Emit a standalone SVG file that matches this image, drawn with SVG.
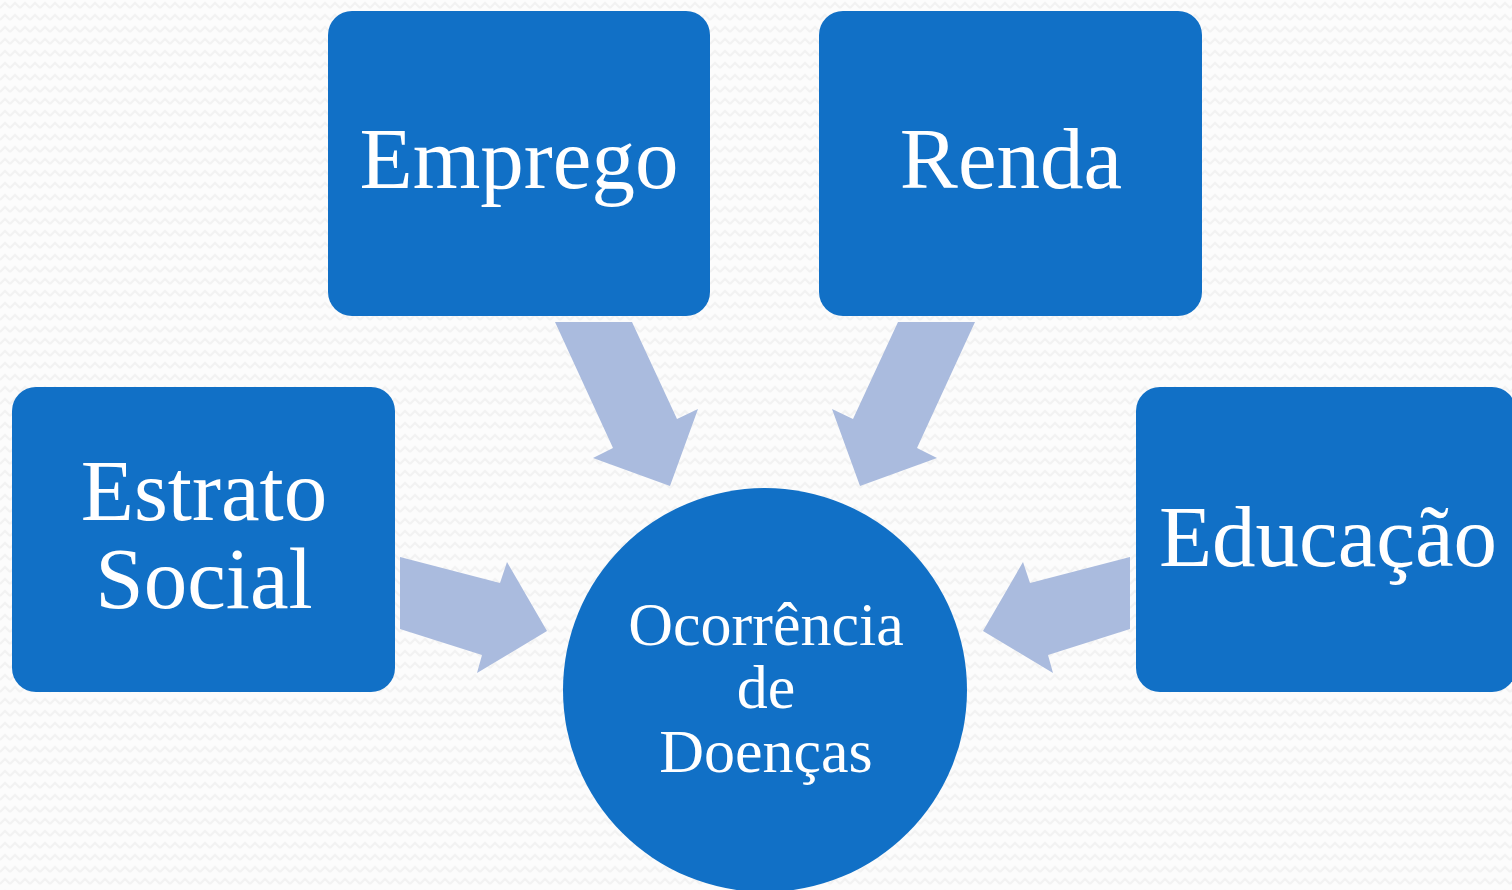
<svg xmlns="http://www.w3.org/2000/svg" width="1512" height="890" viewBox="0 0 1512 890">
<style>
.box{fill:#1170C6;}
.arr{fill:#AABBDE;}
.t{font-family:"Liberation Serif","DejaVu Serif",serif;fill:#ffffff;text-anchor:middle;}
.big{font-size:87px;}
.mid{font-size:62px;}
</style>
<defs>
<pattern id="bg" width="10" height="12" patternUnits="userSpaceOnUse">
<rect width="10" height="12" fill="#fcfcfc"/>
<path d="M0 8 L5 3 L10 8" fill="none" stroke="#f2f2f2" stroke-width="2"/>
</pattern>
</defs>
<rect width="1512" height="890" fill="url(#bg)"/>
<g id="connectors">
<polygon class="arr" points="400,557 500,583 507,562 547,631 477,673 482,655 400,629"/>
<polygon class="arr" points="1130,557 1030,583 1023,562 983,631 1053,673 1048,655 1130,629"/>
<polygon class="arr" points="555,322 632,322 677,419 698,409 670,486 593,458 613,448"/>
<polygon class="arr" points="975,322 898,322 853,419 832,409 860,486 937,458 917,448"/>
</g>
<g id="estrato">
<rect class="box" x="12" y="387" width="383" height="305" rx="24"/>
<text class="t big" x="204" y="520">Estrato</text>
<text class="t big" x="204" y="608">Social</text>
</g>
<g id="emprego">
<rect class="box" x="328" y="11" width="382" height="305" rx="24"/>
<text class="t big" x="519" y="188">Emprego</text>
</g>
<g id="renda">
<rect class="box" x="819" y="11" width="383" height="305" rx="24"/>
<text class="t big" x="1011" y="188">Renda</text>
</g>
<g id="educacao">
<rect class="box" x="1136" y="387" width="380" height="305" rx="24"/>
<text class="t big" x="1328" y="566">Educação</text>
</g>
<g id="ocorrencia">
<circle class="box" cx="765" cy="690" r="202"/>
<text class="t mid" x="766" y="645">Ocorrência</text>
<text class="t mid" x="766" y="708">de</text>
<text class="t mid" x="766" y="772">Doenças</text>
</g>
</svg>
